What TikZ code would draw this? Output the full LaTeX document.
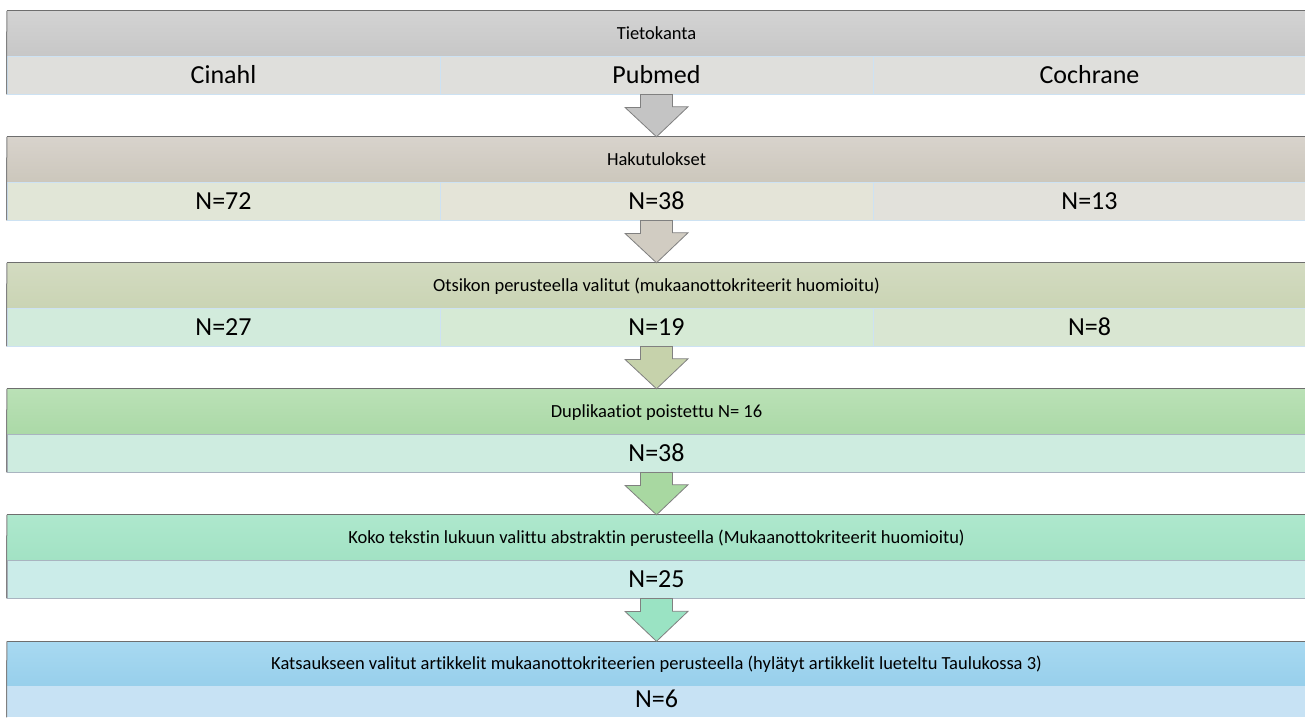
\documentclass[tikz,border=0pt]{standalone}
\usepackage{fontspec}
\setmainfont[Ligatures={NoCommon}]{Carlito}
\usetikzlibrary{positioning}

\definecolor{headA1}{HTML}{D3D3D3}\definecolor{headA2}{HTML}{C7C7C7}
\definecolor{headB1}{HTML}{D8D3CC}\definecolor{headB2}{HTML}{CCC7BC}
\definecolor{headC1}{HTML}{D3DBC1}\definecolor{headC2}{HTML}{CAD4B4}
\definecolor{headD1}{HTML}{BAE1B6}\definecolor{headD2}{HTML}{ABD9A7}
\definecolor{headE1}{HTML}{AEE8CD}\definecolor{headE2}{HTML}{A2E2C4}
\definecolor{headF1}{HTML}{A8D9F1}\definecolor{headF2}{HTML}{97CFEB}
\definecolor{cellA}{HTML}{DFDFDC}
\definecolor{cellBa}{HTML}{E1E6D7}\definecolor{cellBb}{HTML}{E4E4D8}\definecolor{cellBc}{HTML}{E2E1DB}
\definecolor{cellCa}{HTML}{D2EBDC}\definecolor{cellCb}{HTML}{D6EAD5}\definecolor{cellCc}{HTML}{D9E6D2}
\definecolor{cellD}{HTML}{CEECE0}
\definecolor{cellE}{HTML}{CBECE9}
\definecolor{cellF}{HTML}{C7E2F4}
\definecolor{arrowA}{HTML}{C4C4C4}
\definecolor{arrowB}{HTML}{D1CCC2}
\definecolor{arrowC}{HTML}{C6D2AB}
\definecolor{arrowD}{HTML}{A8D8A1}
\definecolor{arrowE}{HTML}{9AE3C3}
\definecolor{cellline}{HTML}{CDE2F3}
\definecolor{greyline}{HTML}{A9B4C0}
\definecolor{topline}{HTML}{6E6E6E}

\tikzset{
  header/.style={minimum width=1299, minimum height=45, inner sep=0pt,
    text height=11.7pt, text depth=0pt, font=\fontsize{18.5}{20}\selectfont},
  cell/.style={minimum width=433, minimum height=38, inner sep=0pt, draw=cellline,
    line width=0.8pt, text height=16.4pt, text depth=0pt, font=\fontsize{26}{28}\selectfont},
  widecell/.style={cell, minimum width=1299},
  blockarrow/.style={draw=gray, line width=0.8pt},
  edgeline/.style={draw=topline, line width=1.3pt}
}

\begin{document}
\begin{tikzpicture}[x=1pt, y=-1pt]
	\useasboundingbox [fill=white] (0,0) rectangle (1305,717);
	\begin{scope}
	\clip (0,0) rectangle (1305,717);
	% tietokanta
	\node [header, top color=headA1, bottom color=headA2] (h1) at (656.5,33.5) {Tietokanta};
	\node [cell, fill=cellA] (s1a) at (223.5,75) {Cinahl};
	\node [cell, fill=cellA] (s1b) at (656.5,75) {Pubmed};
	\node [cell, fill=cellA] (s1c) at (1089.5,75) {Cochrane};
	% hakutulokset
	\node [header, top color=headB1, bottom color=headB2] (h2) at (656.5,159.5) {Hakutulokset};
	\node [cell, fill=cellBa] (s2a) at (223.5,201) {N=72};
	\node [cell, fill=cellBb] (s2b) at (656.5,201) {N=38};
	\node [cell, fill=cellBc] (s2c) at (1089.5,201) {N=13};
	% otsikon perusteella
	\node [header, top color=headC1, bottom color=headC2] (h3) at (656.5,285.5) {Otsikon perusteella valitut (mukaanottokriteerit huomioitu)};
	\node [cell, fill=cellCa] (s3a) at (223.5,327) {N=27};
	\node [cell, fill=cellCb] (s3b) at (656.5,327) {N=19};
	\node [cell, fill=cellCc] (s3c) at (1089.5,327) {N=8};
	% duplikaatiot
	\node [header, top color=headD1, bottom color=headD2] (h4) at (656.5,411.5) {Duplikaatiot poistettu N= 16};
	\node [widecell, fill=cellD, draw=greyline] (s4) at (656.5,453) {N=38};
	% abstraktit
	\node [header, top color=headE1, bottom color=headE2] (h5) at (656.5,537.5) {Koko tekstin lukuun valittu abstraktin perusteella (Mukaanottokriteerit huomioitu)};
	\node [widecell, fill=cellE, draw=greyline] (s5) at (656.5,579) {N=25};
	% katsaus
	\node [header, top color=headF1, bottom color=headF2] (h6) at (656.5,664) {Katsaukseen valitut artikkelit mukaanottokriteerien perusteella (hylätyt artikkelit lueteltu Taulukossa 3)};
	\node [widecell, fill=cellF, draw=none, minimum height=31, text depth=4pt] (s6) at (656.5,701.5) {N=6};
	% reunat
	\draw [edgeline] (h1.north west) -- (h1.north east);
	\draw [edgeline] (h2.north west) -- (h2.north east);
	\draw [edgeline] (h3.north west) -- (h3.north east);
	\draw [edgeline] (h4.north west) -- (h4.north east);
	\draw [edgeline] (h5.north west) -- (h5.north east);
	\draw [edgeline] (h6.north west) -- (h6.north east);
	\draw [draw=gray, line width=1pt] (h1.north west) -- (s1a.south west);
	\draw [draw=gray, line width=1pt] (h2.north west) -- (s2a.south west);
	\draw [draw=gray, line width=1pt] (h3.north west) -- (s3a.south west);
	\draw [draw=gray, line width=1pt] (h4.north west) -- (s4.south west);
	\draw [draw=gray, line width=1pt] (h5.north west) -- (s5.south west);
	\draw [draw=gray, line width=1pt] (h6.north west) -- (s6.south west);
	% nuolet
	\draw [blockarrow, fill=arrowA] ([xshift=-16pt]s1b.south) -- ++(0,13) -- ++(-15.5,0) -- (h2.north) -- ++(31.5,-30) -- ++(-15.5,0) -- ([xshift=16pt]s1b.south) -- cycle;
	\draw [blockarrow, fill=arrowB] ([xshift=-16pt]s2b.south) -- ++(0,13) -- ++(-15.5,0) -- (h3.north) -- ++(31.5,-30) -- ++(-15.5,0) -- ([xshift=16pt]s2b.south) -- cycle;
	\draw [blockarrow, fill=arrowC] ([xshift=-16pt]s3b.south) -- ++(0,13) -- ++(-15.5,0) -- (h4.north) -- ++(31.5,-30) -- ++(-15.5,0) -- ([xshift=16pt]s3b.south) -- cycle;
	\draw [blockarrow, fill=arrowD] ([xshift=-16pt]s4.south) -- ++(0,13) -- ++(-15.5,0) -- (h5.north) -- ++(31.5,-30) -- ++(-15.5,0) -- ([xshift=16pt]s4.south) -- cycle;
	\draw [blockarrow, fill=arrowE] ([xshift=-16pt]s5.south) -- ++(0,13) -- ++(-15.5,0) -- (h6.north) -- ++(31.5,-30) -- ++(-15.5,0) -- ([xshift=16pt]s5.south) -- cycle;
	\end{scope}
\end{tikzpicture}
\end{document}
